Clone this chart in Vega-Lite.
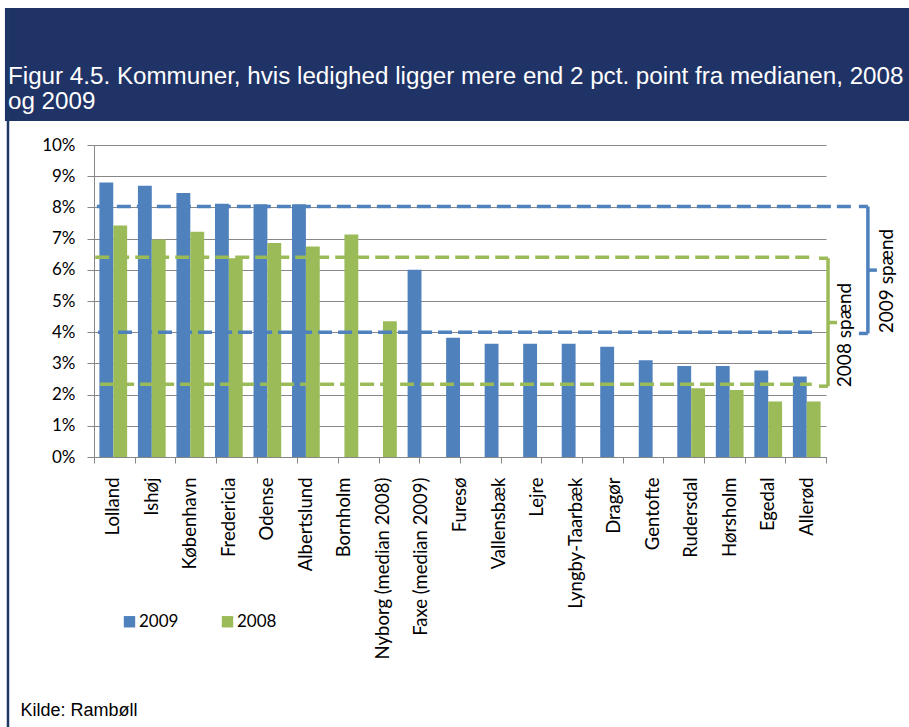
{
  "$schema": "https://vega.github.io/schema/vega-lite/v6.json",
  "width": 732,
  "height": 312,
  "autosize": {"type": "none"},
  "padding": {"left": 94, "top": 145, "right": 83, "bottom": 270},
  "background": "white",
  "config": {"view": {"stroke": null}, "font": "Lato"},
  "title": {
    "text": ["Figur 4.5. Kommuner, hvis ledighed ligger mere end 2 pct. point fra medianen, 2008", "og 2009"],
    "anchor": "start",
    "frame": "group",
    "orient": "top",
    "dx": -86,
    "offset": -131,
    "baseline": "bottom",
    "color": "white",
    "font": "Liberation Sans",
    "fontSize": 24.2,
    "fontWeight": "normal",
    "lineHeight": 25,
    "zindex": 1
  },
  "datasets": {
    "bars": [
      {"kommune": "Lolland", "year": "2009", "pct": 8.8},
      {"kommune": "Lolland", "year": "2008", "pct": 7.42},
      {"kommune": "Ishøj", "year": "2009", "pct": 8.69},
      {"kommune": "Ishøj", "year": "2008", "pct": 6.97},
      {"kommune": "København", "year": "2009", "pct": 8.46},
      {"kommune": "København", "year": "2008", "pct": 7.22},
      {"kommune": "Fredericia", "year": "2009", "pct": 8.12},
      {"kommune": "Fredericia", "year": "2008", "pct": 6.37},
      {"kommune": "Odense", "year": "2009", "pct": 8.1},
      {"kommune": "Odense", "year": "2008", "pct": 6.86},
      {"kommune": "Albertslund", "year": "2009", "pct": 8.1},
      {"kommune": "Albertslund", "year": "2008", "pct": 6.75},
      {"kommune": "Bornholm", "year": "2008", "pct": 7.13},
      {"kommune": "Nyborg (median 2008)", "year": "2008", "pct": 4.35},
      {"kommune": "Faxe (median 2009)", "year": "2009", "pct": 6.0},
      {"kommune": "Furesø", "year": "2009", "pct": 3.82},
      {"kommune": "Vallensbæk", "year": "2009", "pct": 3.63},
      {"kommune": "Lejre", "year": "2009", "pct": 3.63},
      {"kommune": "Lyngby-Taarbæk", "year": "2009", "pct": 3.63},
      {"kommune": "Dragør", "year": "2009", "pct": 3.53},
      {"kommune": "Gentofte", "year": "2009", "pct": 3.1},
      {"kommune": "Rudersdal", "year": "2009", "pct": 2.92},
      {"kommune": "Rudersdal", "year": "2008", "pct": 2.2},
      {"kommune": "Hørsholm", "year": "2009", "pct": 2.92},
      {"kommune": "Hørsholm", "year": "2008", "pct": 2.15},
      {"kommune": "Egedal", "year": "2009", "pct": 2.77},
      {"kommune": "Egedal", "year": "2008", "pct": 1.78},
      {"kommune": "Allerød", "year": "2009", "pct": 2.58},
      {"kommune": "Allerød", "year": "2008", "pct": 1.78}
    ],
    "spans": [
      {"year": "2009", "level": 8.03, "from": 0.07, "to": 18.66},
      {"year": "2009", "level": 4.0, "from": 0.1, "to": 17.68},
      {"year": "2008", "level": 6.4, "from": 0.03, "to": 17.6},
      {"year": "2008", "level": 2.33, "from": 0.15, "to": 17.65}
    ],
    "braces": [
      {"year": "2009", "x": 19.03, "lo": 3.96, "hi": 8.03, "mid": 5.99},
      {"year": "2008", "x": 18.05, "lo": 2.27, "hi": 6.37, "mid": 4.31}
    ],
    "braceLabels": [
      {"label": "2009 spænd", "x": 19.5, "y": 5.64},
      {"label": "2008 spænd", "x": 18.47, "y": 3.91}
    ]
  },
  "layer": [
    {
      "data": {"name": "bars"},
      "mark": {"type": "bar"},
      "encoding": {
        "x": {
          "field": "kommune",
          "type": "nominal",
          "sort": ["Lolland", "Ishøj", "København", "Fredericia", "Odense", "Albertslund", "Bornholm", "Nyborg (median 2008)", "Faxe (median 2009)", "Furesø", "Vallensbæk", "Lejre", "Lyngby-Taarbæk", "Dragør", "Gentofte", "Rudersdal", "Hørsholm", "Egedal", "Allerød"],
          "scale": {"paddingInner": 0.28, "paddingOuter": 0.14},
          "axis": {
            "labelAngle": -90,
            "ticks": false,
            "domainColor": "#878787",
            "labelFont": "Lato",
            "labelFontSize": 18.5,
            "labelColor": "#000000",
            "labelPadding": 20,
            "labelLimit": 300,
            "title": "Kilde: Rambøll",
            "titleAnchor": "start",
            "titleAlign": "left",
            "titleBaseline": "alphabetic",
            "titleX": -74,
            "titleY": 258,
            "titleFont": "Liberation Sans",
            "titleFontSize": 18,
            "titleFontWeight": "normal",
            "titleColor": "#000000"
          }
        },
        "xOffset": {"field": "year", "type": "nominal", "scale": {"domain": ["2009", "2008"]}},
        "y": {
          "field": "pct",
          "type": "quantitative",
          "scale": {"domain": [0, 10], "nice": false},
          "axis": {
            "values": [0, 1, 2, 3, 4, 5, 6, 7, 8, 9, 10],
            "labelExpr": "datum.value + '%'",
            "grid": true,
            "gridColor": "#878787",
            "tickColor": "#878787",
            "tickSize": 7,
            "domainColor": "#878787",
            "labelPadding": 12,
            "labelFont": "Lato",
            "labelFontSize": 17,
            "labelColor": "#000000",
            "title": null
          }
        },
        "color": {
          "field": "year",
          "type": "nominal",
          "scale": {"domain": ["2009", "2008"], "range": ["#4F81BD", "#9BBB59"]},
          "legend": {
            "orient": "none",
            "legendX": 27,
            "legendY": 468,
            "direction": "horizontal",
            "title": null,
            "symbolType": "square",
            "symbolSize": 130,
            "symbolStrokeWidth": 0,
            "labelFont": "Lato",
            "labelFontSize": 17,
            "labelColor": "#000000",
            "columnPadding": 40,
            "labelOffset": 1,
            "padding": 0
          }
        }
      }
    },
    {
      "layer": [
        {
          "data": {"values": [{}]},
          "mark": {"type": "rect", "color": "#1F3366"},
          "encoding": {
            "x": {
              "datum": -2.19,
              "type": "quantitative",
              "scale": {"domain": [0, 18], "nice": false, "zero": false},
              "axis": {
                "orient": "bottom",
                "values": [0, 1, 2, 3, 4, 5, 6, 7, 8, 9, 10, 11, 12, 13, 14, 15, 16, 17, 18],
                "labels": false,
                "domain": false,
                "grid": false,
                "ticks": true,
                "tickSize": 6,
                "tickColor": "#878787",
                "title": null
              }
            },
            "x2": {"datum": 20.3},
            "y": {"datum": 10.77, "type": "quantitative", "scale": {"domain": [0, 10], "nice": false}, "axis": null},
            "y2": {"datum": 14.39}
          }
        },
        {
          "data": {"values": [{}]},
          "mark": {"type": "rule", "color": "#1F3864", "strokeWidth": 2.5},
          "encoding": {
            "x": {"datum": -2.115, "type": "quantitative", "scale": {"domain": [0, 18], "nice": false, "zero": false}},
            "y": {"datum": 14.39, "type": "quantitative", "scale": {"domain": [0, 10], "nice": false}, "axis": null},
            "y2": {"datum": -8.8}
          }
        },
        {
          "data": {"name": "spans"},
          "mark": {"type": "rule", "strokeWidth": 3.5, "strokeDash": [14, 6]},
          "encoding": {
            "x": {"field": "from", "type": "quantitative", "scale": {"domain": [0, 18], "nice": false, "zero": false}},
            "x2": {"field": "to"},
            "y": {"field": "level", "type": "quantitative", "scale": {"domain": [0, 10], "nice": false}, "axis": null},
            "color": {"field": "year", "type": "nominal", "legend": null}
          }
        },
        {
          "data": {"name": "braces"},
          "mark": {"type": "rule", "strokeWidth": 3.5},
          "encoding": {
            "x": {"field": "x", "type": "quantitative", "scale": {"domain": [0, 18], "nice": false, "zero": false}},
            "y": {"field": "lo", "type": "quantitative", "scale": {"domain": [0, 10], "nice": false}, "axis": null},
            "y2": {"field": "hi"},
            "color": {"field": "year", "type": "nominal", "legend": null}
          }
        },
        {
          "data": {"name": "braces"},
          "mark": {"type": "rule", "strokeWidth": 3.5, "x2Offset": -9},
          "encoding": {
            "x": {"field": "x", "type": "quantitative", "scale": {"domain": [0, 18], "nice": false, "zero": false}},
            "x2": {"field": "x"},
            "y": {"field": "hi", "type": "quantitative", "scale": {"domain": [0, 10], "nice": false}, "axis": null},
            "color": {"field": "year", "type": "nominal", "legend": null}
          }
        },
        {
          "data": {"name": "braces"},
          "mark": {"type": "rule", "strokeWidth": 3.5, "x2Offset": -9},
          "encoding": {
            "x": {"field": "x", "type": "quantitative", "scale": {"domain": [0, 18], "nice": false, "zero": false}},
            "x2": {"field": "x"},
            "y": {"field": "lo", "type": "quantitative", "scale": {"domain": [0, 10], "nice": false}, "axis": null},
            "color": {"field": "year", "type": "nominal", "legend": null}
          }
        },
        {
          "data": {"name": "braces"},
          "mark": {"type": "rule", "strokeWidth": 3.5, "x2Offset": 9},
          "encoding": {
            "x": {"field": "x", "type": "quantitative", "scale": {"domain": [0, 18], "nice": false, "zero": false}},
            "x2": {"field": "x"},
            "y": {"field": "mid", "type": "quantitative", "scale": {"domain": [0, 10], "nice": false}, "axis": null},
            "color": {"field": "year", "type": "nominal", "legend": null}
          }
        },
        {
          "data": {"name": "braceLabels"},
          "mark": {"type": "text", "angle": 270, "align": "center", "baseline": "middle", "font": "Lato", "fontSize": 19, "color": "#000000"},
          "encoding": {
            "x": {"field": "x", "type": "quantitative", "scale": {"domain": [0, 18], "nice": false, "zero": false}},
            "y": {"field": "y", "type": "quantitative", "scale": {"domain": [0, 10], "nice": false}, "axis": null},
            "text": {"field": "label"}
          }
        }
      ]
    }
  ],
  "resolve": {"scale": {"x": "independent"}, "axis": {"x": "independent", "y": "independent"}}
}
